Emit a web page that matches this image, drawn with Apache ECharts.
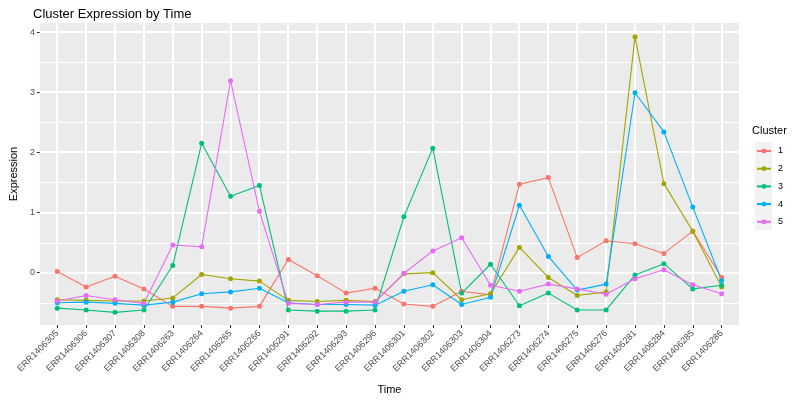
<!DOCTYPE html>
<html>
<head>
<meta charset="utf-8">
<script src="https://cdn.jsdelivr.net/npm/echarts@6/dist/echarts.min.js"></script>
<style>
html,body{margin:0;padding:0;background:#fff;}
#chart{width:800px;height:400px;}
</style>
</head>
<body>
<div id="chart"></div>
<script>
const categories = ['ERR1406305','ERR1406306','ERR1406307','ERR1406308','ERR1406263','ERR1406264','ERR1406265','ERR1406266','ERR1406291','ERR1406292','ERR1406293','ERR1406296','ERR1406301','ERR1406302','ERR1406303','ERR1406304','ERR1406273','ERR1406274','ERR1406275','ERR1406276','ERR1406281','ERR1406284','ERR1406285','ERR1406286'];
const clusterNames = ['1','2','3','4','5'];
const cluster1 = [0.02,-0.24,-0.06,-0.27,-0.56,-0.56,-0.59,-0.56,0.22,-0.05,-0.34,-0.26,-0.52,-0.56,-0.31,-0.37,1.47,1.58,0.25,0.53,0.48,0.32,0.69,-0.08];
const cluster2 = [-0.45,-0.46,-0.47,-0.47,-0.42,-0.03,-0.10,-0.14,-0.46,-0.48,-0.46,-0.48,-0.02,0.00,-0.45,-0.35,0.42,-0.08,-0.38,-0.32,3.92,1.48,0.69,-0.24];
const cluster3 = [-0.59,-0.62,-0.66,-0.62,0.12,2.15,1.27,1.45,-0.62,-0.64,-0.64,-0.62,0.93,2.07,-0.34,0.14,-0.55,-0.34,-0.62,-0.62,-0.04,0.15,-0.27,-0.21];
const cluster4 = [-0.50,-0.49,-0.51,-0.54,-0.49,-0.35,-0.32,-0.26,-0.50,-0.53,-0.53,-0.54,-0.31,-0.20,-0.53,-0.41,1.12,0.27,-0.29,-0.19,2.99,2.34,1.09,-0.13];
const cluster5 = [-0.47,-0.38,-0.45,-0.51,0.46,0.43,3.19,1.02,-0.51,-0.53,-0.49,-0.49,-0.01,0.36,0.58,-0.21,-0.31,-0.19,-0.27,-0.36,-0.10,0.05,-0.20,-0.35];
const yTicks = [0,1,2,3,4];
const yMinorLines = [-0.5,0.5,1.5,2.5,3.5];
const colors = ['#F8766D','#A3A500','#00BF7D','#00B0F6','#E76BF3'];

const allSeries = [cluster1, cluster2, cluster3, cluster4, cluster5];
const xIdx = categories.map((c, i) => i);
const FONT = 'Liberation Sans, Arial, sans-serif';
const X_MIN = -0.6, X_MAX = 23.6, Y_MIN = -0.87, Y_MAX = 4.15;

const chart = echarts.init(document.getElementById('chart'), null, {renderer: 'canvas'});

const panelSeries = {
  type: 'custom', z: 1, silent: true, animation: false,
  data: [[0, 0]],
  clip: false,
  renderItem: (params, api) => {
    const tl = api.coord([X_MIN, Y_MAX]);
    const br = api.coord([X_MAX, Y_MIN]);
    const children = [{
      type: 'rect', shape: {x: tl[0], y: tl[1], width: br[0] - tl[0], height: br[1] - tl[1]},
      style: {fill: '#EBEBEB'}
    }];
    const hline = (v, w) => {
      const a = api.coord([X_MIN, v]), b = api.coord([X_MAX, v]);
      children.push({type: 'rect', shape: {x: a[0], y: Math.round(a[1]) - Math.floor(w / 2), width: b[0] - a[0], height: w}, style: {fill: '#FFFFFF'}});
    };
    const vline = (v, w) => {
      const a = api.coord([v, Y_MAX]), b = api.coord([v, Y_MIN]);
      children.push({type: 'rect', shape: {x: Math.round(a[0]) - Math.floor(w / 2), y: a[1], width: w, height: b[1] - a[1]}, style: {fill: '#FFFFFF'}});
    };
    yMinorLines.forEach(v => hline(v, 1));
    yTicks.forEach(v => hline(v, 2));
    xIdx.forEach(v => vline(v, 2));
    return {type: 'group', children: children};
  }
};

const dataSeries = allSeries.map((arr, k) => ({
  name: clusterNames[k], type: 'line', z: 2,
  data: arr.map((v, i) => [i, v]),
  symbol: 'circle', symbolSize: 5, showSymbol: true,
  lineStyle: {color: colors[k], width: 1.1},
  itemStyle: {color: colors[k], borderWidth: 0},
  emphasis: {disabled: true},
  animation: false
}));

chart.setOption({
  animation: false,
  color: colors,
  textStyle: {fontFamily: FONT},
  title: {
    text: 'Cluster Expression by Time', left: 28, top: 3,
    textStyle: {fontSize: 13, fontWeight: 'normal', color: '#000', fontFamily: FONT}
  },
  grid: {left: 29, right: 61, top: 23, bottom: 71, show: false, containLabel: false},
  xAxis: {
    type: 'value', min: X_MIN, max: X_MAX,
    name: 'Time', nameLocation: 'middle', nameGap: 59,
    nameTextStyle: {fontSize: 11, color: '#000'},
    axisLine: {show: false, onZero: false},
    axisTick: {show: true, customValues: xIdx, length: 3, lineStyle: {color: '#333333', width: 1}},
    axisLabel: {customValues: xIdx, rotate: 45, fontSize: 9, color: '#4D4D4D', margin: 7,
      formatter: v => categories[Math.round(v)] || ''},
    splitLine: {show: false}
  },
  yAxis: {
    type: 'value', min: Y_MIN, max: Y_MAX,
    name: 'Expression', nameLocation: 'middle', nameGap: 17, nameRotate: 90,
    nameTextStyle: {fontSize: 11, color: '#000'},
    axisLine: {show: false, onZero: false},
    axisTick: {show: true, customValues: yTicks, length: 3, lineStyle: {color: '#333333', width: 1}},
    axisLabel: {customValues: yTicks, fontSize: 9, color: '#4D4D4D', margin: 5},
    splitLine: {show: false}
  },
  legend: {
    orient: 'vertical', left: 751, top: 141.5,
    itemWidth: 14, itemHeight: 6, itemGap: 8.7,
    data: clusterNames,
    textStyle: {fontSize: 9, color: '#000', padding: [0, 0, 0, 2]}
  },
  graphic: [
    {type: 'rect', left: 755, top: 142, z: -1, shape: {width: 17, height: 88}, style: {fill: '#F2F2F2'}},
    {type: 'text', left: 752, top: 125, style: {text: 'Cluster', fontSize: 11, fill: '#000', fontFamily: FONT}}
  ],
  series: [panelSeries, ...dataSeries]
});
</script>
</body>
</html>
